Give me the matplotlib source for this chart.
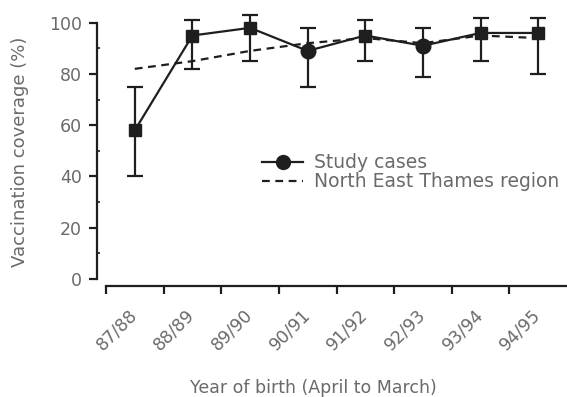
import matplotlib
matplotlib.use("Agg")
import matplotlib.pyplot as plt
import matplotlib.transforms as mtransforms
from matplotlib.ticker import MultipleLocator, FixedLocator, NullFormatter
from matplotlib.lines import Line2D

categories = ["87/88", "88/89", "89/90", "90/91", "91/92", "92/93", "93/94", "94/95"]
study = [58, 95, 98, 89, 95, 91, 96, 96]
study_low = [40, 82, 85, 75, 85, 79, 85, 80]
study_high = [75, 101, 103, 98, 101, 98, 102, 102]
region = [82, 85, 89, 92, 94, 92, 95, 94]
markers = ["s", "s", "s", "o", "s", "o", "s", "s"]

plt.rcParams['font.family'] = ['DejaVu Sans']
TXT = "#6a6a6a"
INK = "#1e1e1e"

fig = plt.figure(figsize=(5.67, 3.97), dpi=100)
ax = fig.add_axes([106/567, 1-279/397, 1-106/567, (279-22.7)/397])

x = list(range(len(categories)))
yerr = [[s - l for s, l in zip(study, study_low)], [h - s for s, h in zip(study, study_high)]]

ax.plot(x, region, linestyle=(0, (3.5, 2.5)), color=INK, lw=1.6, zorder=2, clip_on=False)
eb = ax.errorbar(x, study, yerr=yerr, fmt="none", ecolor=INK, elinewidth=1.6, capsize=5.5,
                 capthick=1.6, zorder=3)
for art in eb.lines[1] + eb.lines[2]:
    art.set_clip_on(False)
ax.plot(x, study, color=INK, lw=1.6, zorder=3, clip_on=False)
for xi, yi, m in zip(x, study, markers):
    ax.plot([xi], [yi], marker=m, ms=9 if m == "s" else 10.5, color=INK, zorder=4,
            linestyle="none", clip_on=False)

ax.set_xlim(-0.5, 7.5)
ax.set_ylim(0, 100)

ax.spines['top'].set_visible(False)
ax.spines['right'].set_visible(False)
ax.spines['left'].set_position(('outward', 6.5))
ax.spines['bottom'].set_position(('outward', 5))
for s in ['left', 'bottom']:
    ax.spines[s].set_linewidth(1.6)
    ax.spines[s].set_color(INK)

ax.yaxis.set_major_locator(MultipleLocator(20))
ax.yaxis.set_minor_locator(MultipleLocator(10))
ax.tick_params(axis='y', which='major', direction='out', length=6, width=1.6, color=INK,
               labelsize=12.5, labelcolor=TXT, pad=5)
ax.tick_params(axis='y', which='minor', direction='in', length=2, width=1.2, color=INK)

ax.xaxis.set_major_locator(FixedLocator([i - 0.5 for i in x]))
ax.xaxis.set_major_formatter(NullFormatter())
ax.xaxis.set_minor_locator(FixedLocator(x))
ax.set_xticklabels(categories, minor=True, rotation=45, ha='right', va='top')
ax.tick_params(axis='x', which='minor', length=0, labelsize=12.5, labelcolor=TXT, pad=14)
ax.tick_params(axis='x', which='major', direction='out', length=6, width=1.6, color=INK)
offset = mtransforms.ScaledTranslation(6/100, 0, fig.dpi_scale_trans)
for lab in ax.xaxis.get_minorticklabels():
    lab.set_transform(lab.get_transform() + offset)

fig.text(313/567, 1-388/397, "Year of birth (April to March)", ha='center', va='center',
         fontsize=12.5, color=TXT)
fig.text(20/567, 1-152/397, "Vaccination coverage (%)", ha='center', va='center',
         rotation=90, fontsize=13, color=TXT)

handles = [Line2D([], [], color=INK, lw=1.6, marker='o', ms=10),
           Line2D([], [], color=INK, lw=1.6, linestyle=(0, (3.5, 2.5)))]
fig.legend(handles, ["Study cases", "North East Thames region"], loc='center left',
           bbox_to_anchor=(262/567, 1-172.5/397), frameon=False, borderpad=0, borderaxespad=0,
           handlelength=2.2, handletextpad=0.6, labelspacing=0.0, fontsize=13.5, labelcolor=TXT)

fig.savefig("out.png", dpi=100)
